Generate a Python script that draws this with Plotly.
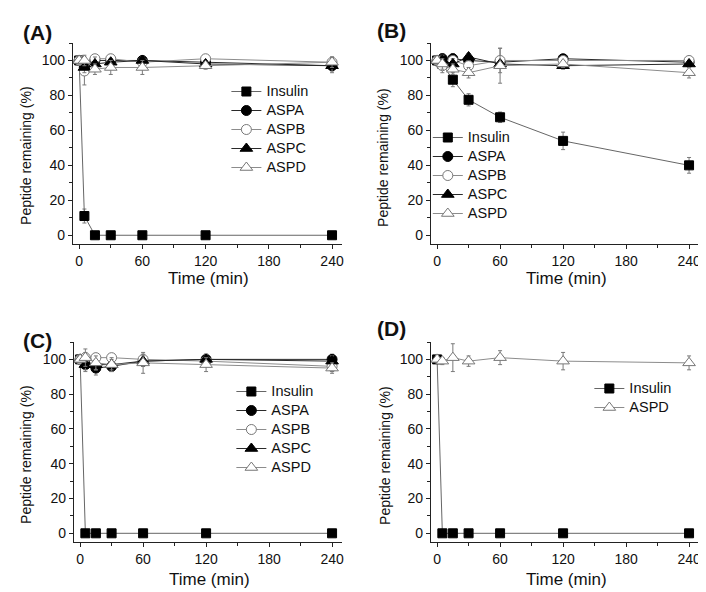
import plotly.graph_objects as go

# ---------------- data ----------------
times = [0, 5, 15, 30, 60, 120, 240]

insulin_A = [100, 11, 0, 0, 0, 0, 0]
insulin_A_err = [0, 4, 0, 0, 0, 0, 0]
aspa_A = [100, 96, 100, 100, 100, 99, 97]
aspa_A_err = [2, 3, 2, 2, 1, 2, 3]
aspb_A = [100, 94, 101, 101, 99, 101, 99]
aspb_A_err = [2, 8, 2, 2, 2, 2, 3]
aspc_A = [100, 96, 98, 99, 100, 98, 97]
aspc_A_err = [2, 3, 4, 2, 2, 2, 4]
aspd_A = [100, 100, 95, 96, 96, 97, 99]
aspd_A_err = [2, 3, 3, 4, 4, 2, 3]

insulin_B = [100, 98, 89, 77.5, 67.5, 54, 40]
insulin_B_err = [0, 2, 4, 3.5, 3, 5, 4.5]
aspa_B = [100, 101, 101, 100, 99, 101, 99]
aspa_B_err = [2, 3, 3, 2, 2, 2, 2]
aspb_B = [100, 97, 100, 97, 100, 100, 100]
aspb_B_err = [2, 4, 2, 3, 7, 2, 2]
aspc_B = [100, 100, 98, 102, 98, 97, 98]
aspc_B_err = [2, 3, 3, 2, 2, 2, 2]
aspd_B = [100, 98, 95, 93, 97, 98, 93]
aspd_B_err = [2, 3, 3, 3, 10, 2, 3]

insulin_C = [100, 0, 0, 0, 0, 0, 0]
insulin_C_err = [0, 0, 0, 0, 0, 0, 0]
aspa_C = [100, 97, 95, 96, 99, 100, 100]
aspa_C_err = [2, 4, 4, 3, 3, 3, 3]
aspb_C = [100, 101, 101, 101, 100, 99, 96]
aspb_C_err = [2, 3, 2, 2, 3, 3, 3]
aspc_C = [100, 97, 97, 97, 99, 100, 99]
aspc_C_err = [2, 3, 3, 3, 3, 3, 3]
aspd_C = [100, 101, 98, 97, 98, 97, 95]
aspd_C_err = [2, 5, 4, 4, 6, 4, 3]

insulin_D = [100, 0, 0, 0, 0, 0, 0]
insulin_D_err = [0, 0, 0, 0, 0, 0, 0]
aspd_D = [100, 99, 101, 99, 101, 99, 98]
aspd_D_err = [2, 2, 8, 3, 4, 5, 4]

x_ticks = [0, 60, 120, 180, 240]
y_ticks = [0, 20, 40, 60, 80, 100]
panel_labels = ["(A)", "(B)", "(C)", "(D)"]
x_title = "Time (min)"
y_title = "Peptide remaining (%)"

# ---------------- style ----------------
FONT = "Liberation Sans, Arial, sans-serif"
W, H = 706, 592
DARK = "#2a2a2a"
MID = "#666666"
LIGHT = "#8c8c8c"
ERR = "#7a7a7a"

series_style = {
    "Insulin": dict(symbol="square", size=9, fill="black", edge="black", line=MID),
    "ASPA": dict(symbol="circle", size=10, fill="black", edge="black", line=DARK),
    "ASPB": dict(symbol="circle", size=10, fill="white", edge="#777777", line=LIGHT),
    "ASPC": dict(symbol="triangle-up", size=11, fill="black", edge="black", line=DARK),
    "ASPD": dict(symbol="triangle-up", size=11, fill="white", edge="#777777", line=LIGHT),
}

# panel geometry in pixels
panels = [
    dict(px=(65, 335, 35, 236), leg=(219, 69), lab=(13, 25), yt=(18, 147), xt=(201, 270)),
    dict(px=(424, 693, 35, 236), leg=(421, 115), lab=(368, 23), yt=(376, 149), xt=(560, 270)),
    dict(px=(66, 335, 334, 534), leg=(224, 369), lab=(13, 332), yt=(18, 446), xt=(202, 571)),
    dict(px=(424, 693, 334, 534), leg=(583, 366), lab=(368, 320), yt=(378, 447), xt=(560, 571)),
]

panel_series = [
    [("Insulin", insulin_A, insulin_A_err), ("ASPA", aspa_A, aspa_A_err),
     ("ASPB", aspb_A, aspb_A_err), ("ASPC", aspc_A, aspc_A_err), ("ASPD", aspd_A, aspd_A_err)],
    [("Insulin", insulin_B, insulin_B_err), ("ASPA", aspa_B, aspa_B_err),
     ("ASPB", aspb_B, aspb_B_err), ("ASPC", aspc_B, aspc_B_err), ("ASPD", aspd_B, aspd_B_err)],
    [("Insulin", insulin_C, insulin_C_err), ("ASPA", aspa_C, aspa_C_err),
     ("ASPB", aspb_C, aspb_C_err), ("ASPC", aspc_C, aspc_C_err), ("ASPD", aspd_C, aspd_C_err)],
    [("Insulin", insulin_D, insulin_D_err), ("ASPD", aspd_D, aspd_D_err)],
]

fig = go.Figure()
layout = dict(
    width=W, height=H,
    margin=dict(l=0, r=0, t=0, b=0),
    paper_bgcolor="white", plot_bgcolor="white",
    font=dict(family=FONT, size=14, color="#111111"),
    annotations=[],
)

def px2x(p):
    return p / W

def px2y(p):
    return 1 - p / H

for i, (pan, sers) in enumerate(zip(panels, panel_series)):
    n = "" if i == 0 else str(i + 1)
    xa, ya = "x" + n, "y" + n
    leg = "legend" + n
    for name, vals, errs in sers:
        st = series_style[name]
        fig.add_trace(go.Scatter(
            x=times, y=vals, name='<span style="font-size:14.5px">' + name + '</span>',
            mode="lines+markers",
            xaxis=xa, yaxis=ya, legend=leg,
            line=dict(color=st["line"], width=1),
            marker=dict(symbol=st["symbol"], size=st["size"], color=st["fill"],
                        line=dict(color=st["edge"], width=1)),
            error_y=dict(type="data", array=errs, visible=True,
                         color=ERR, thickness=1, width=2),
        ))
    l, r, t, b = pan["px"]
    axcommon = dict(showline=True, linecolor="#222222", linewidth=1, showgrid=False,
                    zeroline=False, ticks="outside", ticklen=4, tickwidth=1,
                    tickcolor="#222222", mirror=False,
                    tickfont=dict(family=FONT, size=14, color="#111111"))
    layout["xaxis" + n] = dict(
        domain=[px2x(l), px2x(r)], anchor=ya, range=[-6, 249.5],
        tickmode="array", tickvals=x_ticks,
        minor=dict(tickmode="linear", tick0=0, dtick=30, ticks="outside", ticklen=3,
                   tickcolor="#222222"),
        **axcommon)
    layout["yaxis" + n] = dict(
        domain=[px2y(b), px2y(t)], anchor=xa, range=[-5, 110],
        tickmode="array", tickvals=y_ticks,
        minor=dict(tickmode="linear", tick0=0, dtick=10, ticks="outside", ticklen=3,
                   tickcolor="#222222"),
        **axcommon)
    lx, ly = pan["leg"]
    layout[leg] = dict(x=px2x(lx), y=px2y(ly), xanchor="left", yanchor="top",
                       bgcolor="rgba(0,0,0,0)", borderwidth=0,
                       font=dict(family=FONT, size=12.1, color="#111111"),
                       tracegroupgap=0)
    layout["annotations"].append(dict(
        text="<b>" + panel_labels[i] + "</b>", xref="paper", yref="paper",
        x=px2x(pan["lab"][0]), y=px2y(pan["lab"][1]), xanchor="left", yanchor="middle",
        showarrow=False, font=dict(family=FONT, size=21, color="#111111")))
    layout["annotations"].append(dict(
        text=y_title, xref="paper", yref="paper", textangle=-90,
        x=px2x(pan["yt"][0]), y=px2y(pan["yt"][1]), xanchor="center", yanchor="middle",
        showarrow=False, font=dict(family=FONT, size=14, color="#111111")))
    layout["annotations"].append(dict(
        text=x_title, xref="paper", yref="paper",
        x=px2x(pan["xt"][0]), y=px2y(pan["xt"][1]), xanchor="center", yanchor="middle",
        showarrow=False, font=dict(family=FONT, size=17, color="#111111")))

fig.update_layout(**layout)
fig.write_html("out.html")
